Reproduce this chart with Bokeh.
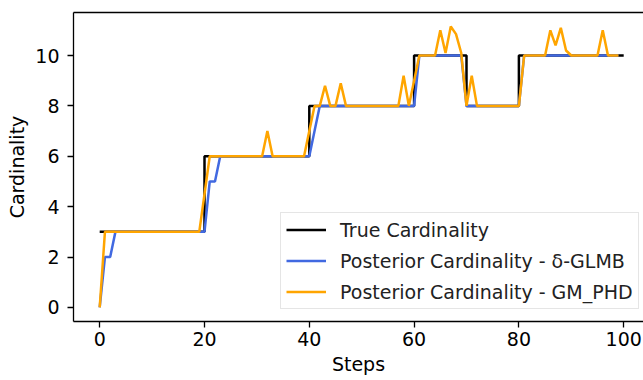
from bokeh.plotting import figure
from bokeh.models import Range1d, LinearAxis, FixedTicker, Legend, LegendItem
from bokeh.embed import file_html
from bokeh.resources import INLINE

# ---- data ----
steps_true = list(range(0, 101))
true_card = [3, 3, 3, 3, 3, 3, 3, 3, 3, 3, 3, 3, 3, 3, 3, 3, 3, 3, 3, 3,
             6, 6, 6, 6, 6, 6, 6, 6, 6, 6, 6, 6, 6, 6, 6, 6, 6, 6, 6, 6,
             8, 8, 8, 8, 8, 8, 8, 8, 8, 8, 8, 8, 8, 8, 8, 8, 8, 8, 8, 8,
             10, 10, 10, 10, 10, 10, 10, 10, 10, 10,
             8, 8, 8, 8, 8, 8, 8, 8, 8, 8,
             10, 10, 10, 10, 10, 10, 10, 10, 10, 10, 10,
             10, 10, 10, 10, 10, 10, 10, 10, 10, 10]

steps_est = list(range(0, 100))
glmb_card = [0, 2, 2, 3, 3, 3, 3, 3, 3, 3, 3, 3, 3, 3, 3, 3, 3, 3, 3, 3,
             3, 5, 5, 6, 6, 6, 6, 6, 6, 6, 6, 6, 6, 6, 6, 6, 6, 6, 6, 6,
             6, 7, 8, 8, 8, 8, 8, 8, 8, 8, 8, 8, 8, 8, 8, 8, 8, 8, 8, 8,
             8, 10, 10, 10, 10, 10, 10, 10, 10, 10,
             8, 8, 8, 8, 8, 8, 8, 8, 8, 8,
             8, 10, 10, 10, 10, 10, 10, 10, 10, 10,
             10, 10, 10, 10, 10, 10, 10, 10, 10, 10]

phd_card = [0, 3, 3, 3, 3, 3, 3, 3, 3, 3, 3, 3, 3, 3, 3, 3, 3, 3, 3, 3,
            4.5, 6, 6, 6, 6, 6, 6, 6, 6, 6, 6, 6, 7, 6, 6, 6, 6, 6, 6, 6,
            7, 8, 8, 8.8, 8, 8, 8.9, 8, 8, 8, 8, 8, 8, 8, 8, 8, 8, 8, 9.2, 8,
            9, 10, 10, 10, 10, 11.0, 10.1, 11.15, 10.85, 10.1,
            8, 9.2, 8, 8, 8, 8, 8, 8, 8, 8,
            8, 10, 10, 10, 10, 10, 11.0, 10.4, 11.1, 10.2,
            10, 10, 10, 10, 10, 10, 11.0, 10, 10, 10]

x_ticks = [0, 20, 40, 60, 80, 100]
y_ticks = [0, 2, 4, 6, 8, 10]
labels = ["True Cardinality",
          "Posterior Cardinality - \u03b4-GLMB",
          "Posterior Cardinality - GM_PHD"]

FONT = "DejaVu Sans"
FS = "19px"

p = figure(width=643, height=380, output_backend="svg", toolbar_location=None,
           x_range=Range1d(-5, 103.78), y_range=Range1d(-0.5575, 11.7075),
           min_border_left=73, min_border_right=0, min_border_top=12,
           min_border_bottom=59)
p.outline_line_color = None
p.xgrid.visible = False
p.ygrid.visible = False
p.background_fill_color = "white"
p.border_fill_color = "white"

r1 = p.step(steps_true, true_card, mode="after", line_color="black", line_width=2.5)
r2 = p.line(steps_est, glmb_card, line_color="#4169E1", line_width=2.5)
r3 = p.line(steps_est, phd_card, line_color="#FFA500", line_width=2.5)

for ax, ticks in ((p.xaxis[0], x_ticks), (p.yaxis[0], y_ticks)):
    ax.ticker = FixedTicker(ticks=ticks)
    ax.minor_tick_out = 0
    ax.minor_tick_in = 0
    ax.major_tick_in = 0
    ax.major_tick_out = 6
    ax.major_tick_line_color = "black"
    ax.major_tick_line_width = 1.3
    ax.axis_line_color = "black"
    ax.axis_line_width = 1.3
    ax.major_label_text_font = FONT
    ax.major_label_text_font_size = FS
    ax.major_label_text_color = "black"
    ax.axis_label_text_font = FONT
    ax.axis_label_text_font_size = FS
    ax.axis_label_text_font_style = "normal"
    ax.axis_label_text_color = "black"

p.xaxis.axis_label = "Steps"
p.yaxis.axis_label = "Cardinality"
p.xaxis.major_label_standoff = 4
p.yaxis.major_label_standoff = 8
p.xaxis.axis_label_standoff = 4
p.yaxis.axis_label_standoff = 4

top = LinearAxis(ticker=FixedTicker(ticks=[]), major_tick_out=0, major_tick_in=0,
                 minor_tick_out=0, minor_tick_in=0, major_label_text_font_size="0px",
                 major_label_standoff=0, axis_line_color="black", axis_line_width=1.3)
p.add_layout(top, "above")

legend = Legend(items=[LegendItem(label=labels[0], renderers=[r1]),
                       LegendItem(label=labels[1], renderers=[r2]),
                       LegendItem(label=labels[2], renderers=[r3])],
                location=(207, 12))
legend.label_text_font = FONT
legend.label_text_font_size = FS
legend.label_text_color = "#222222"
legend.glyph_width = 40
legend.glyph_height = 23
legend.label_height = 23
legend.label_standoff = 14
legend.spacing = 8
legend.padding = 5
legend.margin = 0
legend.border_line_color = "#cccccc"
legend.border_line_width = 1
legend.background_fill_alpha = 0.8
p.add_layout(legend)

open("out.html", "w").write(file_html(p, INLINE))
